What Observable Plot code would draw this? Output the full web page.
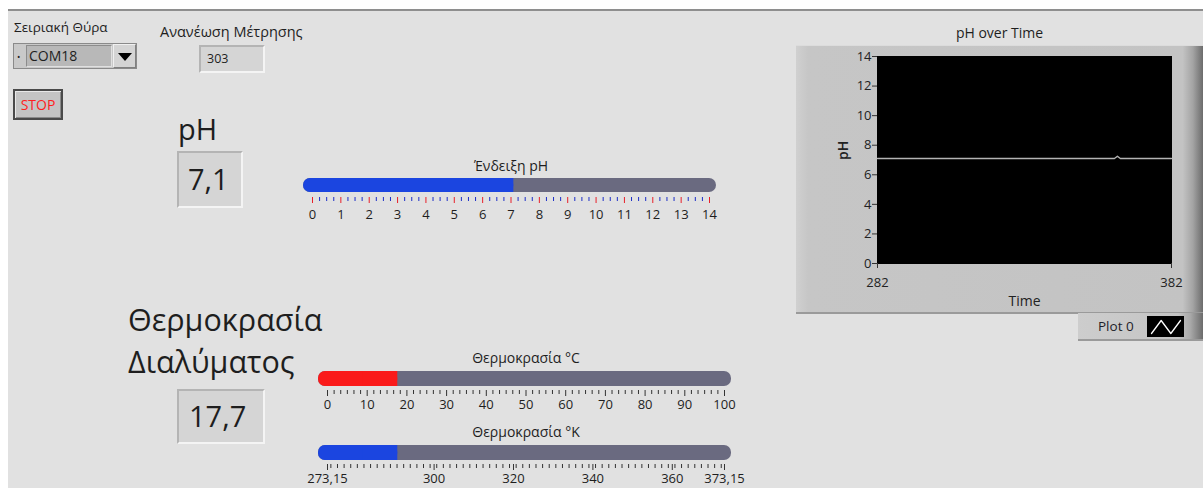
<!DOCTYPE html>
<html><head><meta charset="utf-8">
<script src="https://cdn.jsdelivr.net/npm/d3@7"></script>
<script src="https://cdn.jsdelivr.net/npm/@observablehq/plot@0.6"></script>
<style>
html,body{margin:0;padding:0;background:#fff;}
#panel{position:relative;width:1203px;height:488px;overflow:hidden;background:#fff;font-family:"Open Sans",sans-serif;color:#1e1e1e;}
#bg{position:absolute;left:8px;top:9px;right:0;bottom:0;background:#e1e1e1;border-top:2px solid #8e8e8e;}
.abs{position:absolute;}
.lbl{white-space:nowrap;line-height:18px;}
.sunken{box-sizing:border-box;background:#d5d5d5;border:2px solid;border-color:#b4b4b4 #f4f4f4 #f4f4f4 #b4b4b4;}
.abs svg{display:block;}
</style>
</head><body>
<div id="panel">
  <div id="bg"></div>
  <div class="abs lbl" style="left:14px;top:18px;font-size:13.5px;">Σειριακή Θύρα</div>
  <div class="abs" style="left:13px;top:43px;width:124px;height:26px;box-sizing:border-box;border:1px solid #8a8a8a;background:#c9c9c9;">
    <div class="abs" style="left:3px;top:8px;font-size:9px;line-height:9px;">•</div>
    <div class="abs" style="left:12px;top:1px;width:86px;height:22px;box-sizing:border-box;background:#b8b8b8;border:1px solid;border-color:#8c8c8c #e0e0e0 #e0e0e0 #8c8c8c;font-size:14px;line-height:20px;padding-left:2px;" id="com"></div>
    <div class="abs" style="left:99px;top:0px;width:23px;height:24px;box-sizing:border-box;background:#d4d4d4;border:1px solid;border-color:#f0f0f0 #808080 #808080 #f0f0f0;">
      <div class="abs" style="left:4px;top:8px;width:0;height:0;border-left:7px solid transparent;border-right:7px solid transparent;border-top:8px solid #000;"></div>
    </div>
  </div>
  <div class="abs lbl" style="left:160px;top:23px;font-size:14.5px;">Ανανέωση Μέτρησης</div>
  <div class="abs sunken" style="left:199px;top:45px;width:66px;height:28px;font-size:12.5px;line-height:24px;padding-left:6px;" id="refresh"></div>
  <div class="abs" style="left:13px;top:89px;width:50px;height:31px;box-sizing:border-box;border:2px solid #4a4a4a;background:#c4c4c4;box-shadow:inset 1px 1px 0 #e8e8e8, inset -1px -1px 0 #8a8a8a;color:#ff1e1e;font-size:14px;line-height:27px;text-align:center;">STOP</div>

  <div class="abs" style="left:178px;top:111px;font-size:29px;line-height:36px;">pH</div>
  <div class="abs sunken" style="left:177px;top:151px;width:66px;height:57px;font-size:29px;line-height:52px;padding-left:9px;" id="phbox"></div>

  <div class="abs" style="left:128px;top:298px;font-size:30.5px;line-height:42px;white-space:nowrap;">Θερμοκρασία<br>Διαλύματος</div>
  <div class="abs sunken" style="left:177px;top:389px;width:88px;height:55px;font-size:29px;line-height:50px;padding-left:10px;" id="tbox"></div>

  <div class="abs" id="phSlider" style="left:303px;top:150px;"></div>
  <div class="abs" id="cSlider" style="left:318px;top:343px;"></div>
  <div class="abs" id="kSlider" style="left:318px;top:417px;"></div>

  <div class="abs lbl" style="left:796px;top:24px;width:407px;text-align:center;font-size:14px;">pH over Time</div>
  <div class="abs" style="left:796px;top:45px;width:407px;height:269px;box-sizing:border-box;background:linear-gradient(to right,#d0d0d0 0,#c6c6c6 3%,#c3c3c3 95%,#a4a4a4 97.5%,#6c6c6c 100%);border-top:1px solid #dcdcdc;border-bottom:2px solid #9a9a9a;"></div>
  <div class="abs" id="chart" style="left:796px;top:45px;"></div>

  <div class="abs" style="left:1078px;top:313px;width:125px;height:28px;box-sizing:border-box;background:linear-gradient(to right,#cdcdcd 0,#c4c4c4 80%,#a8a8a8 90%,#6c6c6c 100%);border-bottom:2px solid #9a9a9a;">
    <div class="abs" style="left:20px;top:4px;font-size:13.5px;line-height:18px;color:#1e1e2a;" id="plotname"></div>
    <div class="abs" id="swatch" style="left:69px;top:3px;"></div>
  </div>
</div>
<script>
// ---- data ----
const portName = "COM18";
const refreshValue = 303;
const phValue = 7.1;
const tempC = 17.7;
const tempK = 290.85;

const phDomain = [0, 14];
const phMajorTicks = [0, 1, 2, 3, 4, 5, 6, 7, 8, 9, 10, 11, 12, 13, 14];
const cDomain = [0, 100];
const cMajorTicks = [0, 10, 20, 30, 40, 50, 60, 70, 80, 90, 100];
const kDomain = [273.15, 373.15];
const kLabelTicks = [273.15, 300, 320, 340, 360, 373.15];

const chartTime = [282, 362.6, 363.6, 364.6, 382];
const chartPH = [7.1, 7.1, 7.25, 7.1, 7.1];
const chartXTicks = [282, 382];
const chartYTicks = [0, 2, 4, 6, 8, 10, 12, 14];
const legendName = "Plot 0";
const legendSwatch = [0, 1, 0, 1];

// ---- text fields ----
const comma = v => String(v).replace(".", ",");
document.getElementById("com").textContent = portName;
document.getElementById("refresh").textContent = refreshValue;
document.getElementById("phbox").textContent = comma(phValue);
document.getElementById("tbox").textContent = comma(tempC);
document.getElementById("plotname").textContent = legendName;

const FONT = "Open Sans, sans-serif";
const TRACK = "#6a6a80";

function slider({value, domain, major, minor, fmt, fill, majorColor, minorColor, title, majorSize, minorSize, pad, top, bottomInset, height, titleDy}) {
  return Plot.plot({
    width: 413, height,
    marginLeft: 9, marginRight: 7, marginTop: top, marginBottom: height - top - 19,
    x: {domain},
    style: {background: "transparent", overflow: "visible", fontFamily: FONT, fontSize: "13px", color: "#1e1e1e"},
    marks: [
      Plot.rect([value], {x1: () => domain[0], x2: () => domain[1], insetLeft: -9, insetRight: -7, insetBottom: bottomInset, rx: 7, fill: TRACK}),
      Plot.rect([value], {x1: () => domain[0], x2: d => d, insetLeft: -9, insetBottom: bottomInset, rx: 7, fill}),
      Plot.rect([value], {x1: d => (domain[0] + d) / 2, x2: d => d, insetBottom: bottomInset, fill}),
      Plot.axisX({ticks: minor, tickSize: minorSize, stroke: minorColor, tickFormat: () => "", label: null}),
      Plot.axisX({ticks: major, tickSize: majorSize, stroke: majorColor, fill: "#1e1e1e", tickPadding: pad, tickFormat: fmt, label: null, fontSize: 13}),
      Plot.text([title], {frameAnchor: "top", lineAnchor: "bottom", dy: titleDy, fontSize: 14, fill: "#1e1e1e"})
    ]
  });
}

const phMinor = d3.range(0, 14.001, 0.25).filter(v => !Number.isInteger(v));
document.getElementById("phSlider").append(slider({
  value: phValue, domain: phDomain, major: phMajorTicks, minor: phMinor, fmt: d => d,
  fill: "#1b45e0", majorColor: "#e8202a", minorColor: "#1c2ec8",
  title: "Ένδειξη pH", majorSize: 6, minorSize: 4, pad: 6, top: 28, bottomInset: 5, height: 75, titleDy: -8
}));

const cMinor = d3.range(0, 100.001, 10 / 6).filter(v => Math.abs(v / 10 - Math.round(v / 10)) > 1e-6);
document.getElementById("cSlider").append(slider({
  value: tempC, domain: cDomain, major: cMajorTicks, minor: cMinor, fmt: d => d,
  fill: "#fa1a1a", majorColor: "#333", minorColor: "#333",
  title: "Θερμοκρασία °C", majorSize: 6, minorSize: 4, pad: 3, top: 28, bottomInset: 4, height: 70, titleDy: -9
}));

const kMinor = d3.range(274, 373.1, 10 / 6).map(v => +v.toFixed(3));
document.getElementById("kSlider").append(slider({
  value: tempK, domain: kDomain, major: kLabelTicks, minor: kMinor, fmt: comma,
  fill: "#1b45e0", majorColor: "#333", minorColor: "#333",
  title: "Θερμοκρασία °K", majorSize: 6, minorSize: 4, pad: 3, top: 28, bottomInset: 4, height: 70, titleDy: -9
}));

// ---- chart ----
const series = chartTime.map((t, i) => ({t, ph: chartPH[i]}));
document.getElementById("chart").append(Plot.plot({
  width: 407, height: 269,
  marginLeft: 81, marginRight: 32, marginTop: 11, marginBottom: 51,
  x: {domain: [282, 382]},
  y: {domain: [0, 14]},
  style: {background: "transparent", overflow: "visible", fontFamily: FONT, fontSize: "13px", color: "#222"},
  marks: [
    Plot.frame({fill: "#000", stroke: "#000"}),
    Plot.line(series, {x: "t", y: "ph", stroke: "#b4b4b4", strokeWidth: 1.4}),
    Plot.axisY({ticks: chartYTicks, tickSize: 5, tickPadding: 1, label: null, stroke: "#333"}),
    Plot.axisX({ticks: chartXTicks, tickSize: 5, tickPadding: 9, label: null, stroke: "#333"}),
    Plot.text(["Time"], {frameAnchor: "bottom", lineAnchor: "top", dy: 33, fontSize: 14, fill: "#222"}),
    Plot.text(["pH"], {frameAnchor: "left", rotate: -90, dx: -34, fontSize: 14, fill: "#222", fontWeight: 600})
  ]
}));

// ---- legend swatch ----
document.getElementById("swatch").append(Plot.plot({
  width: 37, height: 21, margin: 4,
  x: {axis: null}, y: {axis: null},
  style: {background: "#000", overflow: "visible"},
  marks: [Plot.line(legendSwatch, {x: (d, i) => i, y: d => d, stroke: "#fff", strokeWidth: 1.3})]
}));
</script>
</body></html>
